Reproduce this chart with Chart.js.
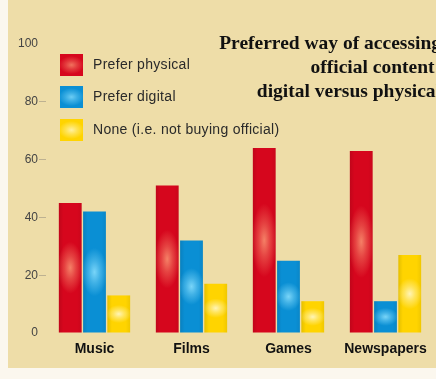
<!DOCTYPE html>
<html>
<head>
<meta charset="utf-8">
<script src="https://cdn.jsdelivr.net/npm/chart.js@4.4.1/dist/chart.umd.min.js"></script>
<style>
html,body{margin:0;padding:0;background:#fbf7ee;overflow:hidden;}
#wrap{position:relative;width:436px;height:379px;}
</style>
</head>
<body>
<div id="wrap"><canvas id="c" width="436" height="379"></canvas></div>
<script>
const categories = ["Music", "Films", "Games", "Newspapers"];
const preferPhysical = [45, 51, 64, 63];
const preferDigital = [42, 32, 25, 11];
const noneOfficial = [13, 17, 11, 27];
const seriesLabels = ["Prefer physical", "Prefer digital", "None (i.e. not buying official)"];
const yTicks = [0, 20, 40, 60, 80, 100];
const titleLines = ["Preferred way of accessing", "official content:", "digital versus physical"];

const baseColors = ["#d6061d", "#0a8fd4", "#ffd400"];
const glowColors = ["250,150,115", "140,225,255", "255,250,215"];

const bgPlugin = {
  id: 'bg',
  beforeDraw(chart) {
    const ctx = chart.ctx;
    ctx.save();
    ctx.fillStyle = '#fbf7ee';
    ctx.fillRect(0, 0, chart.width, chart.height);
    ctx.fillStyle = '#eedda8';
    ctx.fillRect(8, 0, chart.width - 8, 368);
    ctx.restore();
  }
};

function drawGlow(ctx, x0, y0, w, h, rgb, strength) {
  if (h <= 0) return;
  const cx = x0 + w / 2, cy = y0 + h / 2;
  const ry = Math.max(h * 0.2, 9);
  const rx = w * 0.55;
  ctx.save();
  ctx.beginPath();
  ctx.rect(x0, y0, w, h);
  ctx.clip();
  ctx.translate(cx, cy);
  ctx.scale(1, ry / rx);
  const g = ctx.createRadialGradient(0, 0, 0, 0, 0, rx);
  g.addColorStop(0, 'rgba(' + rgb + ',' + strength + ')');
  g.addColorStop(0.45, 'rgba(' + rgb + ',' + (strength * 0.5) + ')');
  g.addColorStop(1, 'rgba(' + rgb + ',0)');
  ctx.fillStyle = g;
  ctx.fillRect(-rx * 1.2, -rx * 1.2, rx * 2.4, rx * 2.4);
  ctx.restore();
}

const glowPlugin = {
  id: 'glow',
  afterDatasetsDraw(chart) {
    const ctx = chart.ctx;
    chart.data.datasets.forEach((ds, di) => {
      const meta = chart.getDatasetMeta(di);
      meta.data.forEach(bar => {
        const p = bar.getProps(['x', 'y', 'base', 'width'], true);
        const top = Math.min(p.y, p.base), h = Math.abs(p.base - p.y);
        ctx.save();
        const lg = ctx.createLinearGradient(p.x - p.width / 2, 0, p.x + p.width / 2, 0);
        lg.addColorStop(0, 'rgba(0,0,0,0.10)');
        lg.addColorStop(0.2, 'rgba(0,0,0,0)');
        lg.addColorStop(0.8, 'rgba(0,0,0,0)');
        lg.addColorStop(1, 'rgba(0,0,0,0.06)');
        ctx.fillStyle = lg;
        ctx.fillRect(p.x - p.width / 2, top, p.width, h);
        ctx.restore();
        drawGlow(ctx, p.x - p.width / 2, top, p.width, h, glowColors[di], 0.85);
      });
    });
  }
};

const legendTitlePlugin = {
  id: 'legendTitle',
  afterDraw(chart) {
    const ctx = chart.ctx;
    ctx.save();
    const lx = 60, sw = 23, sh = 22;
    const ys = [54, 86, 119];
    chart.data.datasets.forEach((ds, i) => {
      ctx.fillStyle = baseColors[i];
      ctx.fillRect(lx, ys[i], sw, sh);
      drawGlow(ctx, lx, ys[i], sw, sh, glowColors[i], 0.75);
      ctx.fillStyle = '#2a2a2a';
      ctx.font = '14px "Liberation Sans", Arial, sans-serif';
      ctx.letterSpacing = '0.3px';
      ctx.textAlign = 'left';
      ctx.textBaseline = 'middle';
      ctx.fillText(ds.label, lx + 33, ys[i] + sh / 2);
    });
    ctx.letterSpacing = '0px';
    ctx.fillStyle = '#111';
    ctx.font = 'bold 19.5px "Liberation Serif", "DejaVu Serif", serif';
    ctx.textAlign = 'right';
    ctx.textBaseline = 'middle';
    titleLines.forEach((t, i) => {
      ctx.fillText(t, 441, 44 + i * 24);
    });
    ctx.restore();
  }
};

new Chart(document.getElementById('c'), {
  type: 'bar',
  data: {
    labels: categories,
    datasets: [
      { label: seriesLabels[0], data: preferPhysical, backgroundColor: baseColors[0] },
      { label: seriesLabels[1], data: preferDigital, backgroundColor: baseColors[1] },
      { label: seriesLabels[2], data: noneOfficial, backgroundColor: baseColors[2] }
    ]
  },
  options: {
    responsive: false,
    animation: false,
    events: [],
    categoryPercentage: 0.75,
    barPercentage: 0.94,
    layout: { padding: { top: 44, right: 2, bottom: 0, left: 0 } },
    plugins: {
      legend: { display: false },
      title: { display: false },
      tooltip: { enabled: false }
    },
    scales: {
      x: {
        grid: { display: false, drawTicks: false },
        border: { display: false },
        ticks: {
          color: '#111',
          padding: 8,
          font: { family: '"Liberation Sans", Arial, sans-serif', size: 14, weight: 'bold' }
        },
        afterFit(axis) { axis.height = 46; }
      },
      y: {
        min: 0, max: 100,
        afterBuildTicks(axis) { axis.ticks = yTicks.map(v => ({ value: v })); },
        grid: {
          drawOnChartArea: false, tickLength: 7, lineWidth: 1,
          color: (c) => (c.tick && (c.tick.value === 0 || c.tick.value === 100)) ? 'rgba(0,0,0,0)' : '#bdb191'
        },
        border: { display: false },
        ticks: {
          color: '#444',
          padding: 1,
          font: { family: '"Liberation Sans", Arial, sans-serif', size: 12 }
        },
        afterFit(axis) { axis.width = 46; }
      }
    }
  },
  plugins: [bgPlugin, glowPlugin, legendTitlePlugin]
});
</script>
</body>
</html>
